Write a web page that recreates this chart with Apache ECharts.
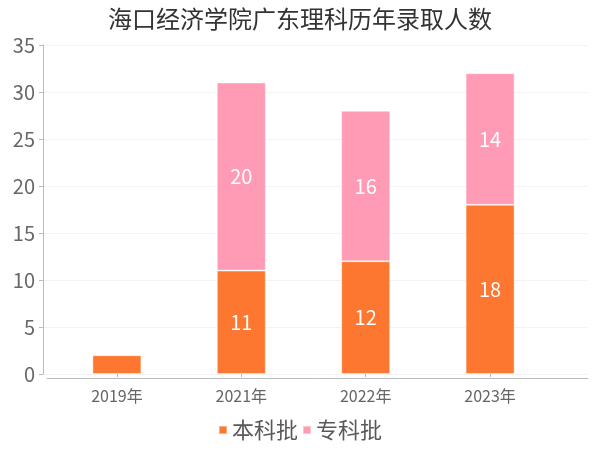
<!DOCTYPE html>
<html>
<head>
<meta charset="utf-8">
<script src="https://cdn.jsdelivr.net/npm/echarts@6/dist/echarts.min.js"></script>
<style>html,body{margin:0;padding:0;background:#fff;}#main{width:600px;height:450px;}</style>
</head>
<body>
<div id="main"></div>
<script>
const categories = ['2019年', '2021年', '2022年', '2023年'];
const benke = [2, 11, 12, 18];
const zhuanke = [null, 20, 16, 14];
const yTicks = [0, 5, 10, 15, 20, 25, 30, 35];

const FONT = '"Noto Sans CJK SC", "Noto Sans", sans-serif';
const chart = echarts.init(document.getElementById('main'));
const labelStyle = { show: true, position: 'inside', color: '#fff', fontFamily: FONT, fontSize: 20 };
chart.setOption({
  backgroundColor: '#fff',
  title: {
    text: '海口经济学院广东理科历年录取人数',
    left: 'center', top: 2,
    textStyle: { fontFamily: FONT, fontSize: 24, fontWeight: 'normal', color: '#333' }
  },
  legend: {
    bottom: 4, left: 'center',
    itemWidth: 8, itemHeight: 8, itemGap: 4,
    icon: 'rect',
    textStyle: { fontFamily: FONT, fontSize: 22, color: '#595959' },
    data: ['本科批', '专科批']
  },
  grid: [
    { left: 43, right: 12, top: 45, bottom: 76 },
    { left: 54.7, right: 47.7, top: 45, bottom: 76 },
    { left: 47, right: 12, top: 45, bottom: 72 }
  ],
  xAxis: [
    {
      gridIndex: 0, type: 'value', min: 0, max: 1, show: false
    },
    {
      gridIndex: 1, type: 'category', data: categories, offset: 4,
      axisLine: { show: false },
      axisTick: { show: true, alignWithLabel: true, length: 3, lineStyle: { color: '#bbb' } },
      axisLabel: { fontFamily: FONT, fontSize: 16, color: '#666', margin: 10 }
    },
    {
      gridIndex: 2, type: 'value', min: 0, max: 1,
      splitLine: { show: false }, axisTick: { show: false }, axisLabel: { show: false },
      axisLine: { show: true, onZero: false, lineStyle: { color: '#bbb' } }
    }
  ],
  yAxis: [
    {
      gridIndex: 0, type: 'value', min: 0, max: 35, interval: 5,
      axisLine: { show: true, onZero: false, lineStyle: { color: '#bbb' } },
      axisTick: { show: true, length: 4, lineStyle: { color: '#bbb' } },
      axisLabel: { fontFamily: FONT, fontSize: 20, color: '#666', margin: 8 },
      splitLine: { lineStyle: { color: '#f3f3f3' } }
    },
    {
      gridIndex: 1, type: 'value', min: 0, max: 35, interval: 5, show: false,
      splitLine: { show: false }
    },
    {
      gridIndex: 2, type: 'value', min: 0, max: 1, show: false
    }
  ],
  series: [
    {
      name: '本科批', type: 'bar', stack: 'total', barWidth: 49,
      xAxisIndex: 1, yAxisIndex: 1,
      data: benke,
      itemStyle: { color: '#fe7730', borderColor: 'rgba(255,255,255,0.4)', borderWidth: 1 },
      label: Object.assign({}, labelStyle, { formatter: p => (p.value >= 5 ? p.value : '') })
    },
    {
      name: '专科批', type: 'bar', stack: 'total', barWidth: 49,
      xAxisIndex: 1, yAxisIndex: 1,
      data: zhuanke,
      itemStyle: { color: '#ff9bb4', borderColor: 'rgba(255,255,255,0.4)', borderWidth: 1 },
      label: labelStyle
    }
  ]
});
</script>
</body>
</html>
